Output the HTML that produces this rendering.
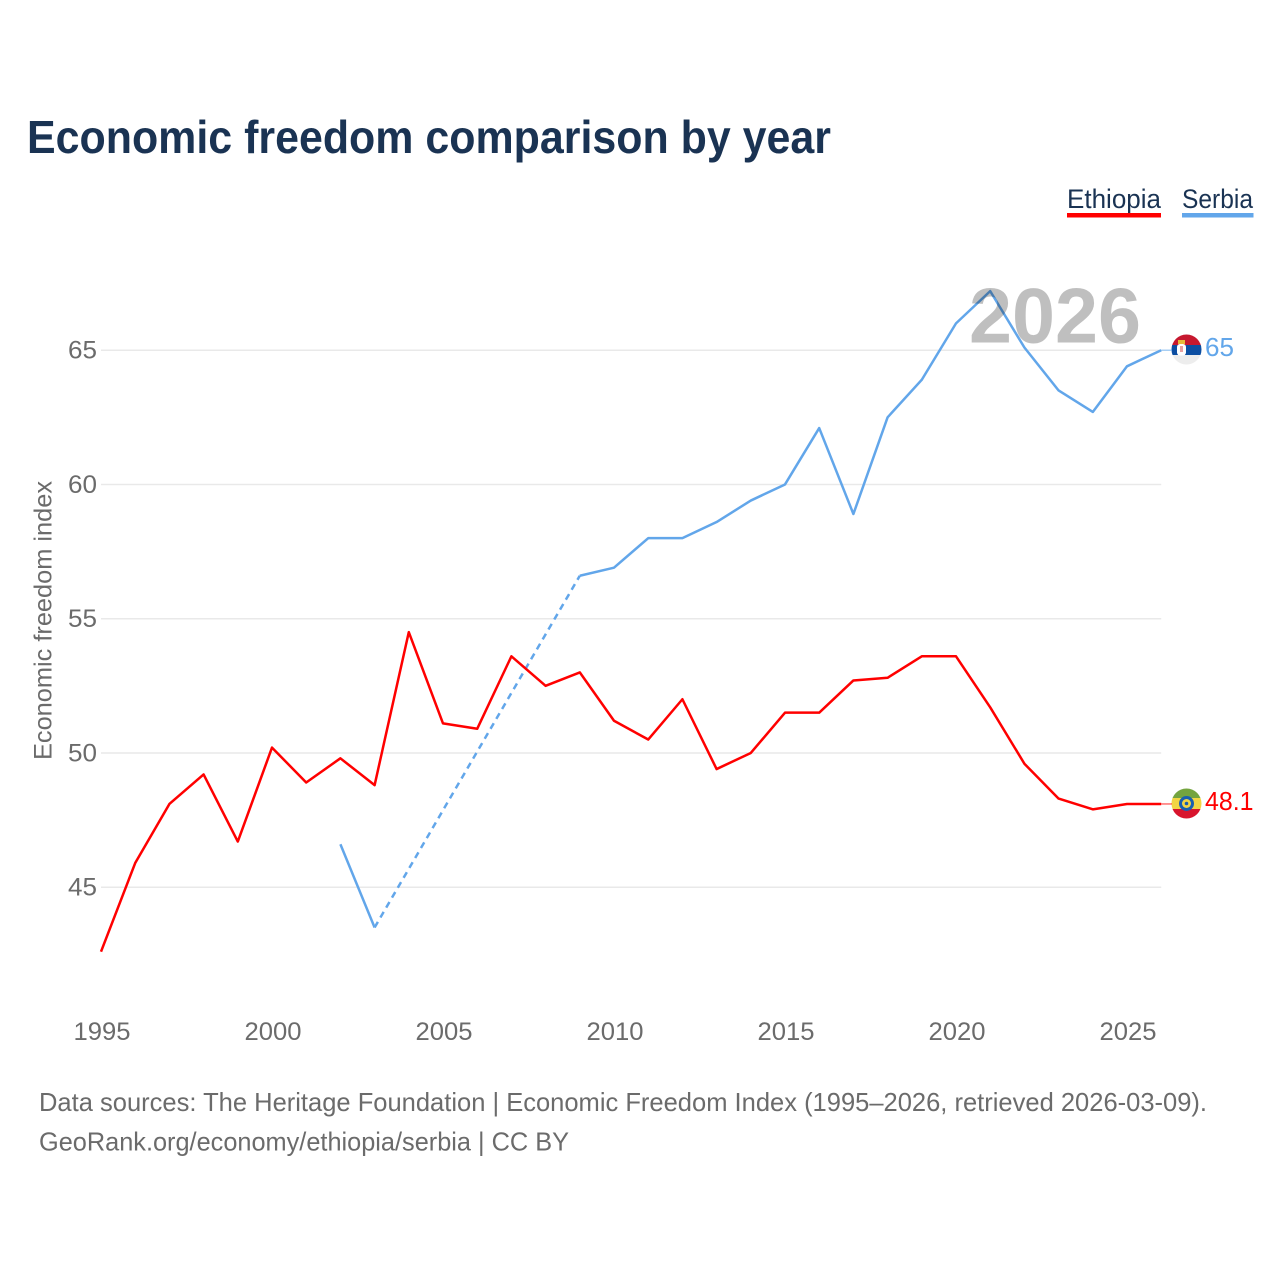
<!DOCTYPE html>
<html lang="en">
<head>
<meta charset="utf-8">
<title>Economic freedom comparison by year</title>
<style>
  html, body { margin: 0; padding: 0; background: #ffffff; }
  svg { display: block; }
  text { font-family: "Liberation Sans", sans-serif; }
</style>
</head>
<body>
<svg id="chart" xmlns="http://www.w3.org/2000/svg" width="1280" height="1280" viewBox="0 0 1280 1280">
  <defs>
    <clipPath id="clip-serbia"><circle cx="1186.5" cy="349.5" r="15"/></clipPath>
    <clipPath id="clip-ethiopia"><circle cx="1186.5" cy="803.5" r="15"/></clipPath>
  </defs>
  <rect width="1280" height="1280" fill="#ffffff"/>
  <text x="27" y="153" font-size="46" font-weight="700" fill="#1a3353" textLength="804" lengthAdjust="spacingAndGlyphs">Economic freedom comparison by year</text>

  <g>
    <g>
      <text x="1067" y="208" font-size="27" fill="#1a3353" textLength="94" lengthAdjust="spacingAndGlyphs">Ethiopia</text>
      <rect x="1067" y="213" width="94" height="4.5" fill="#ff0000"/>
    </g>
    <g>
      <text x="1182" y="208" font-size="27" fill="#1a3353" textLength="71" lengthAdjust="spacingAndGlyphs">Serbia</text>
      <rect x="1182" y="213" width="71.5" height="4.5" fill="#62a6ea"/>
    </g>
  </g>

  <g id="grid"></g>
  <g id="y-axis"></g>
  <g id="x-axis"></g>
  <text transform="translate(51.5,620.5) rotate(-90)" text-anchor="middle" font-size="25" fill="#6b6b6b" textLength="279" lengthAdjust="spacingAndGlyphs">Economic freedom index</text>
  <g id="series"></g>

  <text x="969" y="342.5" font-size="78" font-weight="700" fill="#000000" fill-opacity="0.25" textLength="172" lengthAdjust="spacingAndGlyphs">2026</text>

  <g clip-path="url(#clip-serbia)">
    <rect x="1171" y="334" width="31" height="11.5" fill="#c6182f"/>
    <rect x="1171" y="345" width="31" height="10" fill="#0c4ea2"/>
    <rect x="1171" y="355" width="31" height="11" fill="#ededed"/>
    <rect x="1177" y="344" width="9" height="11.5" rx="3" fill="#ffffff"/>
    <rect x="1178" y="340" width="7" height="4" fill="#e8b93a"/>
    <rect x="1180" y="346" width="3" height="6" fill="#e9a0a0"/>
  </g>
  <g clip-path="url(#clip-ethiopia)">
    <rect x="1171" y="788" width="31" height="10.5" fill="#74a43f"/>
    <rect x="1171" y="798" width="31" height="11" fill="#f2d544"/>
    <rect x="1171" y="809" width="31" height="11" fill="#d8142d"/>
    <circle cx="1186.5" cy="803.5" r="7.5" fill="#1a5fb0"/>
    <circle cx="1186.5" cy="803.5" r="4.5" fill="#f2d544"/>
    <circle cx="1186.5" cy="803.5" r="1.8" fill="#1a5fb0"/>
  </g>
  <g id="end-labels"></g>

  <g font-size="26" fill="#6b6b6b">
    <text x="39" y="1111" textLength="1168" lengthAdjust="spacingAndGlyphs">Data sources: The Heritage Foundation | Economic Freedom Index (1995–2026, retrieved 2026-03-09).</text>
    <text x="39" y="1150.5" textLength="530" lengthAdjust="spacingAndGlyphs">GeoRank.org/economy/ethiopia/serbia | CC BY</text>
  </g>
</svg>
<script>
const years = [1995,1996,1997,1998,1999,2000,2001,2002,2003,2004,2005,2006,2007,2008,2009,2010,2011,2012,2013,2014,2015,2016,2017,2018,2019,2020,2021,2022,2023,2024,2025,2026];
const ethiopiaValues = [42.6,45.9,48.1,49.2,46.7,50.2,48.9,49.8,48.8,54.5,51.1,50.9,53.6,52.5,53.0,51.2,50.5,52.0,49.4,50.0,51.5,51.5,52.7,52.8,53.6,53.6,51.7,49.6,48.3,47.9,48.1,48.1];
const serbiaValues = [null,null,null,null,null,null,null,46.6,43.5,null,null,null,null,null,56.6,56.9,58.0,58.0,58.6,59.4,60.0,62.1,58.9,62.5,63.9,66.0,67.2,65.1,63.5,62.7,64.4,65.0];
const yTicks = [45,50,55,60,65];
const xTicks = [1995,2000,2005,2010,2015,2020,2025];

const NS = 'http://www.w3.org/2000/svg';
const xScale = function (year) { return 101 + (year - 1995) * 34.2; };
const yScale = function (value) { return 887.2 - (value - 45) * 26.85; };

function make(parent, tag, attrs, text) {
  const el = document.createElementNS(NS, tag);
  for (const k in attrs) el.setAttribute(k, attrs[k]);
  if (text !== undefined) el.textContent = text;
  parent.appendChild(el);
  return el;
}

const gridGroup = document.getElementById('grid');
const yAxisGroup = document.getElementById('y-axis');
const xAxisGroup = document.getElementById('x-axis');
const seriesGroup = document.getElementById('series');
const endGroup = document.getElementById('end-labels');

yTicks.forEach(function (t) {
  const line = make(gridGroup, 'line', { x1: 101, x2: xScale(2026), y1: yScale(t), y2: yScale(t), stroke: '#e9e9e9', 'stroke-width': 1.5 });
  
  
  const label = make(yAxisGroup, 'text', { x: 97, y: yScale(t) + 8.5, 'text-anchor': 'end', 'font-size': 25, fill: '#6b6b6b', textLength: 29, lengthAdjust: 'spacingAndGlyphs' }, String(t));
  
  
});

xTicks.forEach(function (t) {
  const label = make(xAxisGroup, 'text', { x: xScale(t) + 1, y: 1040, 'text-anchor': 'middle', 'font-size': 25, fill: '#6b6b6b', textLength: 57, lengthAdjust: 'spacingAndGlyphs' }, String(t));
  
  
});

function drawSeries(key, values, color) {
  let solid = '';
  let dashed = '';
  let prevIndex = -1;
  values.forEach(function (v, i) {
    if (v === null) return;
    const pt = xScale(years[i]).toFixed(2) + ' ' + yScale(v).toFixed(2);
    if (prevIndex === -1) {
      solid += 'M' + pt;
    } else if (prevIndex === i - 1) {
      solid += 'L' + pt;
    } else {
      dashed += 'M' + xScale(years[prevIndex]).toFixed(2) + ' ' + yScale(values[prevIndex]).toFixed(2) + 'L' + pt;
      solid += 'M' + pt;
    }
    prevIndex = i;
  });
  if (dashed) {
    const gap = make(seriesGroup, 'path', { d: dashed, fill: 'none', stroke: color, 'stroke-width': 2.5, 'stroke-dasharray': '6.5 5' });
    
    
  }
  const line = make(seriesGroup, 'path', { d: solid, fill: 'none', stroke: color, 'stroke-width': 2.5, 'stroke-linejoin': 'round' });
  
  

  const lastValue = values[values.length - 1];
  const lastY = yScale(lastValue);
  const lead = make(endGroup, 'line', { x1: xScale(2026), x2: 1172, y1: lastY, y2: lastY, stroke: color, 'stroke-width': 1.2, 'stroke-opacity': 0.7 });
  
  
  const text = String(lastValue);
  const label = make(endGroup, 'text', { x: 1205, y: lastY + 6, 'font-size': 25.5, fill: color, textLength: text.length > 2 ? 48.5 : 29, lengthAdjust: 'spacingAndGlyphs' }, text);
  
  
}

drawSeries('serbia', serbiaValues, '#62a6ea');
drawSeries('ethiopia', ethiopiaValues, '#ff0000');
</script>
</body>
</html>
